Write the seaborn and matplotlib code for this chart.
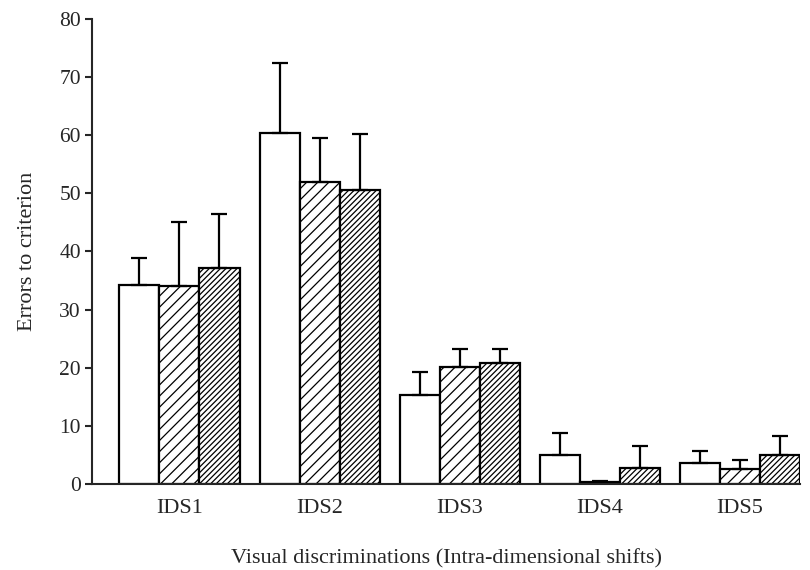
import numpy as np
import pandas as pd
import matplotlib
matplotlib.use("Agg")
import matplotlib.pyplot as plt
import seaborn as sns

# errors to criterion per shift, three groups
shifts = ["IDS1", "IDS2", "IDS3", "IDS4", "IDS5"]
groups = ["Group A", "Group B", "Group C"]
means = {
    "Group A": [34.2, 60.4, 15.3, 5.0, 3.6],
    "Group B": [34.0, 52.0, 20.1, 0.3, 2.5],
    "Group C": [37.1, 50.6, 20.8, 2.8, 4.9],
}
sems = {
    "Group A": [4.6, 12.0, 4.0, 3.7, 2.1],
    "Group B": [11.1, 7.6, 3.1, 0.2, 1.6],
    "Group C": [9.4, 9.6, 2.4, 3.7, 3.4],
}
hatches = {"Group A": "", "Group B": "///", "Group C": "//////"}


def main():
    sns.set_style("ticks")
    plt.rcParams["font.family"] = ["Liberation Serif", "DejaVu Serif"]
    plt.rcParams["hatch.linewidth"] = 0.9

    rows = []
    for g in groups:
        for s, m in zip(shifts, means[g]):
            rows.append({"shift": s, "group": g, "errors": m})
    df = pd.DataFrame(rows)

    fig = plt.figure(figsize=(8.1, 5.7), dpi=100)
    ax = fig.add_axes([0.1136, 0.151, 0.8744, 0.8157])

    sns.barplot(data=df, x="shift", y="errors", hue="group", hue_order=groups,
                order=shifts, palette=["white"] * 3, edgecolor="black",
                linewidth=1.6, width=0.857, errorbar=None, legend=False, ax=ax)

    for cont, g in zip(ax.containers, groups):
        xs = []
        for bar in cont:
            bar.set_hatch(hatches[g])
            bar.set_edgecolor("black")
            xs.append(bar.get_x() + bar.get_width() / 2)
        err = np.array(sems[g])
        ax.errorbar(xs, means[g], yerr=[np.zeros_like(err), err], fmt="none",
                    ecolor="black", elinewidth=1.6, capsize=6, capthick=1.6,
                    zorder=1)

    ax.set_xlim(-0.624, 4.43)
    ax.set_ylim(0, 80)
    ax.set_yticks(np.arange(0, 81, 10))
    ax.tick_params(axis="y", length=5, width=1.5, pad=3, labelsize=15.5)
    ax.tick_params(axis="x", length=0, pad=11, labelsize=16)
    ax.set_ylabel("Errors to criterion", fontsize=16, labelpad=16)
    ax.set_xlabel("Visual discriminations (Intra-dimensional shifts)",
                  fontsize=16, labelpad=22)
    sns.despine(ax=ax)
    for sp in ax.spines.values():
        sp.set_linewidth(1.5)

    fig.savefig("out.png", dpi=100)


if __name__ == "__main__":
    main()
